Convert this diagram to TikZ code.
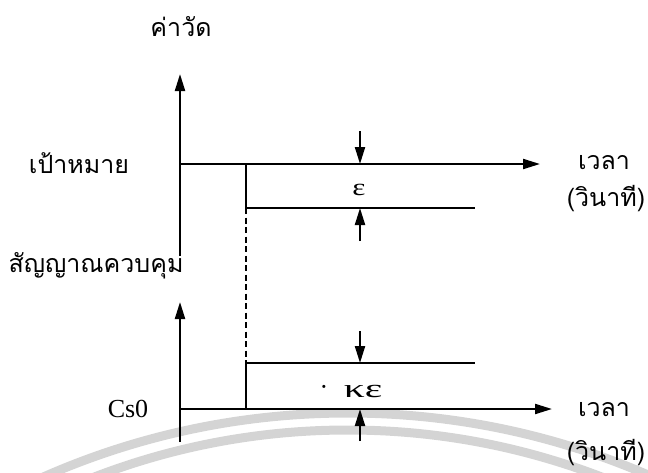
\documentclass[tikz,border=0pt]{standalone}
\usepackage{fontspec}
\usepackage{graphicx}
\setmainfont{Liberation Serif}
\newfontfamily\thaifont[Script=Thai]{Loma}
\usetikzlibrary{arrows.meta}
\tikzset{
  axis/.style={line width=2.1pt, -{Triangle[length=17pt,width=10pt]}},
  sig/.style={line width=2.1pt},
  dimarrow/.style={line width=2.1pt, -{Triangle[length=17pt,width=10pt]}},
  thai/.style={font=\thaifont\fontsize{25}{28}\selectfont, inner sep=0pt},
  serif/.style={font=\fontsize{26}{29}\selectfont, inner sep=0pt},
  wm/.style={line width=9pt, draw=black!17}
}
\begin{document}
\begin{tikzpicture}[x=1pt,y=-1pt]
\useasboundingbox (0,0) rectangle (648,472);
\begin{scope}
\clip (0,0) rectangle (648,472);
\draw[wm] (348,1168) circle[radius=755];
\draw[wm] (348,1135) circle[radius=705];
\end{scope}
% coordinates
\coordinate (o1) at (180,164);
\coordinate (y1b) at (180,256);
\coordinate (y1t) at (180,74);
\coordinate (x1e) at (540,164);
\coordinate (s1a) at (246,164);
\coordinate (s1b) at (246,208);
\coordinate (s1e) at (475,208);
\coordinate (o2) at (180,409);
\coordinate (y2b) at (180,442);
\coordinate (y2t) at (180,302);
\coordinate (x2e) at (552,409);
\coordinate (s2a) at (246,409);
\coordinate (s2b) at (246,363);
\coordinate (s2e) at (475,363);
\coordinate (d1s) at (360,131);
\coordinate (d1t) at (360,164);
\coordinate (u1s) at (360,241);
\coordinate (u1t) at (360,208);
\coordinate (d2s) at (360,331);
\coordinate (d2t) at (360,363);
\coordinate (u2s) at (360,441);
\coordinate (u2t) at (360,409);
% top plot
\draw[axis] (y1b) -- (y1t);
\draw[axis] (o1) -- (x1e);
\draw[sig] (s1a) -- (s1b) -- (s1e);
\draw[sig, line width=2.4pt, dash pattern=on 6pt off 3.5pt] (s1b) -- (s2b);
\draw[dimarrow] (d1s) -- (d1t);
\draw[dimarrow] (u1s) -- (u1t);
% bottom plot
\draw[axis] (y2b) -- (y2t);
\draw[axis] (o2) -- (x2e);
\draw[sig] (s2a) -- (s2b) -- (s2e);
\draw[dimarrow] (d2s) -- (d2t);
\draw[dimarrow] (u2s) -- (u2t);
% labels
\node[thai] (lval) at (181,27) {ค่าวัด};
\node[thai] (ltarget) at (79,163) {เป้าหมาย};
\node[thai] (lctrl) at (96,266) {สัญญาณควบคุม};
\node[thai] (ltime1) at (604,163) {เวลา};
\node[thai] (lsec1) at (606,199) {(วินาที)};
\node[thai] (ltime2) at (604,410) {เวลา};
\node[thai] (lsec2) at (606,453) {(วินาที)};
\node[serif, font=\fontsize{24}{28}\selectfont] (leps) at (359,190) {\scalebox{1.3}[1]{ε}};
\node[serif] (lkeps) at (363,391) {\scalebox{1.6}[1]{κε}};
\node[serif] (ldot) at (324,390) {·};
\node[serif] (lcs) at (128,409) {Cs0};
\end{tikzpicture}
\end{document}
